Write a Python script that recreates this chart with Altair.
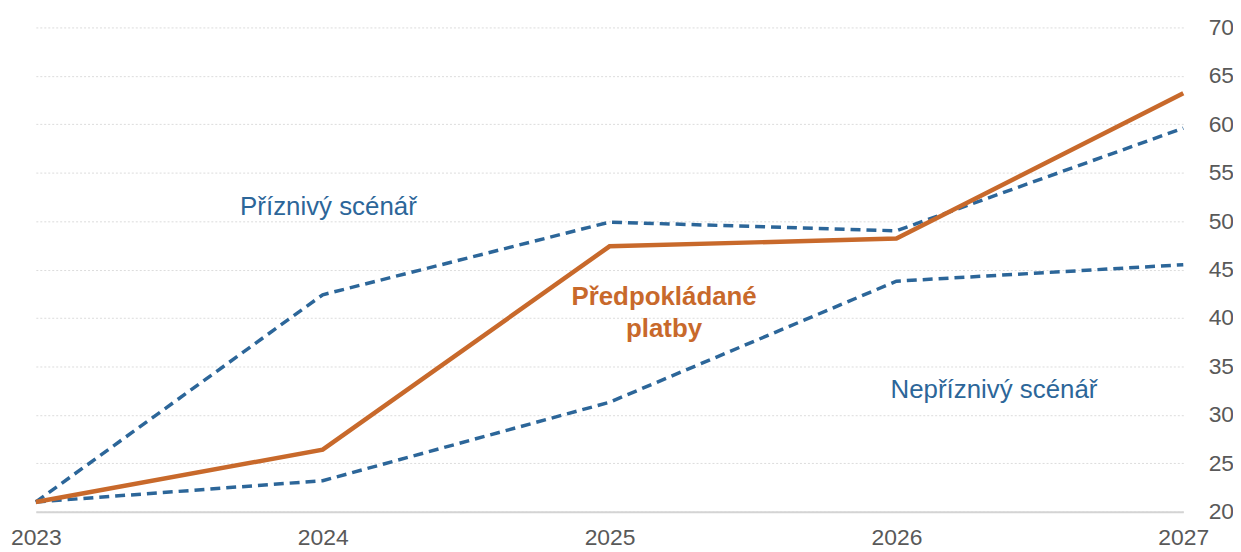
import altair as alt
import pandas as pd

years = [2023, 2024, 2025, 2026, 2027]
expected = [21.0, 26.4, 47.4, 48.2, 63.2]
favorable = [21.0, 42.4, 49.9, 49.0, 59.6]
unfavorable = [21.0, 23.2, 31.3, 43.8, 45.5]

label_texts = ["Příznivý scénář", "Předpokládané\nplatby", "Nepříznivý scénář"]
label_x = [2024.02, 2025.19, 2026.34]
label_y = [51.5, 42.2, 32.6]
label_kind = ["fav", "exp", "unf"]

BLUE = "#2C6699"
ORANGE = "#C8692B"
FONT = "Liberation Sans"

rows = []
for name, vals in [("favorable", favorable), ("unfavorable", unfavorable)]:
    for y, v in zip(years, vals):
        rows.append({"year": y, "value": v, "series": name})
dashed_df = pd.DataFrame(rows)
exp_df = pd.DataFrame({"year": years, "value": expected})
lab_df = pd.DataFrame({"x": label_x, "y": label_y, "text": label_texts, "kind": label_kind})

xscale = alt.Scale(domain=[2023, 2027], nice=False, zero=False)
yscale = alt.Scale(domain=[20, 70], nice=False, zero=False)

xaxis = alt.Axis(values=years, format="d", title=None, grid=False, ticks=False,
                 domain=True, domainColor="#d4d4d4", domainWidth=2,
                 labelFontSize=23, labelColor="#595959", labelFont=FONT,
                 labelPadding=15, labelFlush=False)
yaxis = alt.Axis(orient="right", values=list(range(20, 71, 5)), title=None,
                 grid=True, gridColor="#dcdcdc", gridDash=[2, 2], gridWidth=1,
                 ticks=False, domain=False, labelFontSize=23, labelColor="#595959",
                 labelFont=FONT, labelPadding=25, labelAlign="left")

dashed = alt.Chart(dashed_df).mark_line(strokeWidth=3.5, strokeDash=[10, 6], color=BLUE).encode(
    x=alt.X("year:Q", scale=xscale, axis=xaxis),
    y=alt.Y("value:Q", scale=yscale, axis=yaxis),
    detail="series:N",
)
solid = alt.Chart(exp_df).mark_line(strokeWidth=4.5, color=ORANGE).encode(
    x=alt.X("year:Q", scale=xscale),
    y=alt.Y("value:Q", scale=yscale),
)
blue_labels = alt.Chart(lab_df).transform_filter(alt.datum.kind != "exp").mark_text(
    fontSize=26, font=FONT, color=BLUE, align="center", baseline="middle"
).encode(x=alt.X("x:Q", scale=xscale), y=alt.Y("y:Q", scale=yscale), text="text:N")
orange_labels = alt.Chart(lab_df).transform_filter(alt.datum.kind == "exp").mark_text(
    fontSize=26, font=FONT, color=ORANGE, fontWeight="bold", align="center",
    baseline="middle", lineBreak="\n", lineHeight=33
).encode(x=alt.X("x:Q", scale=xscale), y=alt.Y("y:Q", scale=yscale), text="text:N")

chart = alt.layer(dashed, solid, blue_labels, orange_labels).properties(
    width=1154, height=487,
    autosize=alt.AutoSizeParams(type="none"),
    padding={"left": 28, "top": 18, "right": 50, "bottom": 36},
    background="white",
).configure_view(stroke=None)

chart.save("out.html", embed_options={"renderer": "svg", "actions": False})
